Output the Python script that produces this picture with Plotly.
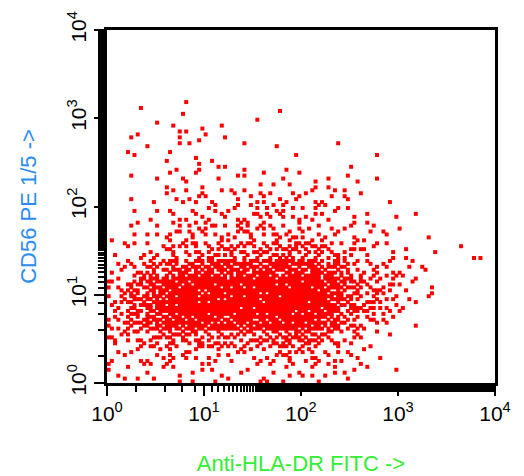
import numpy as np
import plotly.graph_objects as go

# event counts per 0.2-decade bin
# columns: log10(FITC) 0.0-0.2 ... 3.8-4.0 ; rows: log10(PE) from 3.0-3.2 down to 0.0-0.2
row_tops = [3.2, 3.0, 2.8, 2.6, 2.4, 2.2, 2.0, 1.8, 1.6, 1.4, 1.2, 1.0, 0.8, 0.6, 0.4, 0.2]
counts = [
    [0, 1, 0, 1, 1, 0, 0, 0, 1, 0, 0, 0, 0, 0, 0, 0, 0, 0, 0, 0],
    [0, 1, 1, 2, 2, 2, 0, 1, 0, 0, 0, 0, 0, 0, 0, 0, 0, 0, 0, 0],
    [0, 2, 1, 3, 2, 0, 1, 1, 1, 0, 0, 1, 0, 0, 0, 0, 0, 0, 0, 0],
    [0, 1, 0, 2, 3, 2, 1, 1, 0, 2, 0, 0, 1, 1, 0, 0, 0, 0, 0, 0],
    [0, 1, 1, 3, 3, 1, 1, 2, 2, 3, 2, 2, 2, 1, 0, 0, 0, 0, 0, 0],
    [0, 1, 1, 4, 5, 4, 4, 5, 5, 5, 4, 4, 3, 1, 1, 0, 0, 0, 0, 0],
    [0, 2, 2, 4, 5, 5, 5, 6, 6, 6, 5, 4, 3, 2, 1, 1, 0, 0, 0, 0],
    [1, 2, 3, 6, 7, 7, 7, 8, 8, 7, 6, 5, 4, 3, 2, 1, 1, 0, 0, 0],
    [2, 4, 5, 8, 10, 11, 11, 12, 13, 14, 13, 10, 7, 5, 3, 2, 1, 0, 2, 1],
    [4, 8, 13, 19, 22, 24, 24, 24, 26, 27, 26, 19, 12, 8, 6, 4, 2, 0, 0, 0],
    [7, 15, 24, 30, 32, 32, 32, 32, 33, 34, 33, 28, 18, 12, 8, 4, 2, 0, 0, 0],
    [8, 17, 26, 32, 34, 34, 33, 33, 34, 35, 34, 29, 18, 12, 8, 4, 1, 0, 0, 0],
    [8, 15, 22, 28, 30, 29, 28, 28, 30, 32, 30, 23, 12, 7, 4, 1, 0, 0, 0, 0],
    [6, 8, 10, 14, 14, 12, 11, 12, 14, 18, 16, 10, 6, 3, 1, 0, 0, 0, 0, 0],
    [4, 4, 5, 6, 6, 5, 4, 5, 6, 8, 8, 5, 4, 2, 1, 0, 0, 0, 0, 0],
    [3, 2, 3, 3, 3, 3, 2, 2, 3, 4, 4, 3, 3, 1, 1, 0, 0, 0, 0, 0],
]
bin_w = 0.2
# fill order of the 6x6 dot slots inside one bin (slot = row*6 + col)
slot_order = [12, 33, 5, 25, 10, 20, 2, 29, 30, 9, 13, 22, 34, 1, 21, 6, 17, 26,
              3, 18, 35, 8, 28, 19, 14, 31, 0, 23, 7, 27, 16, 4, 32, 11, 24, 15]

xs, ys = [], []
for r, top in enumerate(row_tops):
    for c, n in enumerate(counts[r]):
        # rotate the slot pattern from bin to bin so sparse bins don't line up
        shift = (r * 7 + c * 11) % 36
        for k in range(n):
            s = slot_order[(k + shift) % 36]
            xs.append(10 ** (c * bin_w + (s % 6 + 0.5) * bin_w / 6))
            ys.append(10 ** (top - bin_w + (s // 6 + 0.5) * bin_w / 6))

fig = go.Figure(go.Scatter(
    x=xs, y=ys, mode='markers',
    marker=dict(symbol='square', size=4, color='#ff0000', line_width=0),
))

tickvals = [1, 10, 100, 1000, 10000]
ticktext = ['10<sup>0</sup>', '10<sup>1</sup>', '10<sup>2</sup>', '10<sup>3</sup>', '10<sup>4</sup>']
axis_common = dict(
    type='log', range=[0, 4], tickvals=tickvals, ticktext=ticktext,
    ticks='outside', ticklen=10, tickwidth=2, tickcolor='black',
    minor=dict(ticks='outside', ticklen=6, tickwidth=2, tickcolor='black', showgrid=False),
    showline=True, linewidth=3, linecolor='black', mirror=True,
    showgrid=False, zeroline=False, automargin=False,
    tickfont=dict(family='Liberation Sans', size=21, color='black'),
)
# the page body adds an 8px offset, so margins are trimmed to compensate
fig.update_layout(
    width=524, height=476,
    margin=dict(l=99, r=37, t=22, b=101),
    plot_bgcolor='white', paper_bgcolor='white',
    showlegend=False,
    xaxis=dict(axis_common, title=dict(text='Anti-HLA-DR FITC ->', standoff=32,
               font=dict(family='Liberation Sans', size=22, color='#33ee33'))),
    yaxis=dict(axis_common, tickangle=-90, title=dict(text='CD56 PE 1/5 ->', standoff=22,
               font=dict(family='Liberation Sans', size=22, color='#2a8cf0'))),
)

fig.write_html("out.html")
